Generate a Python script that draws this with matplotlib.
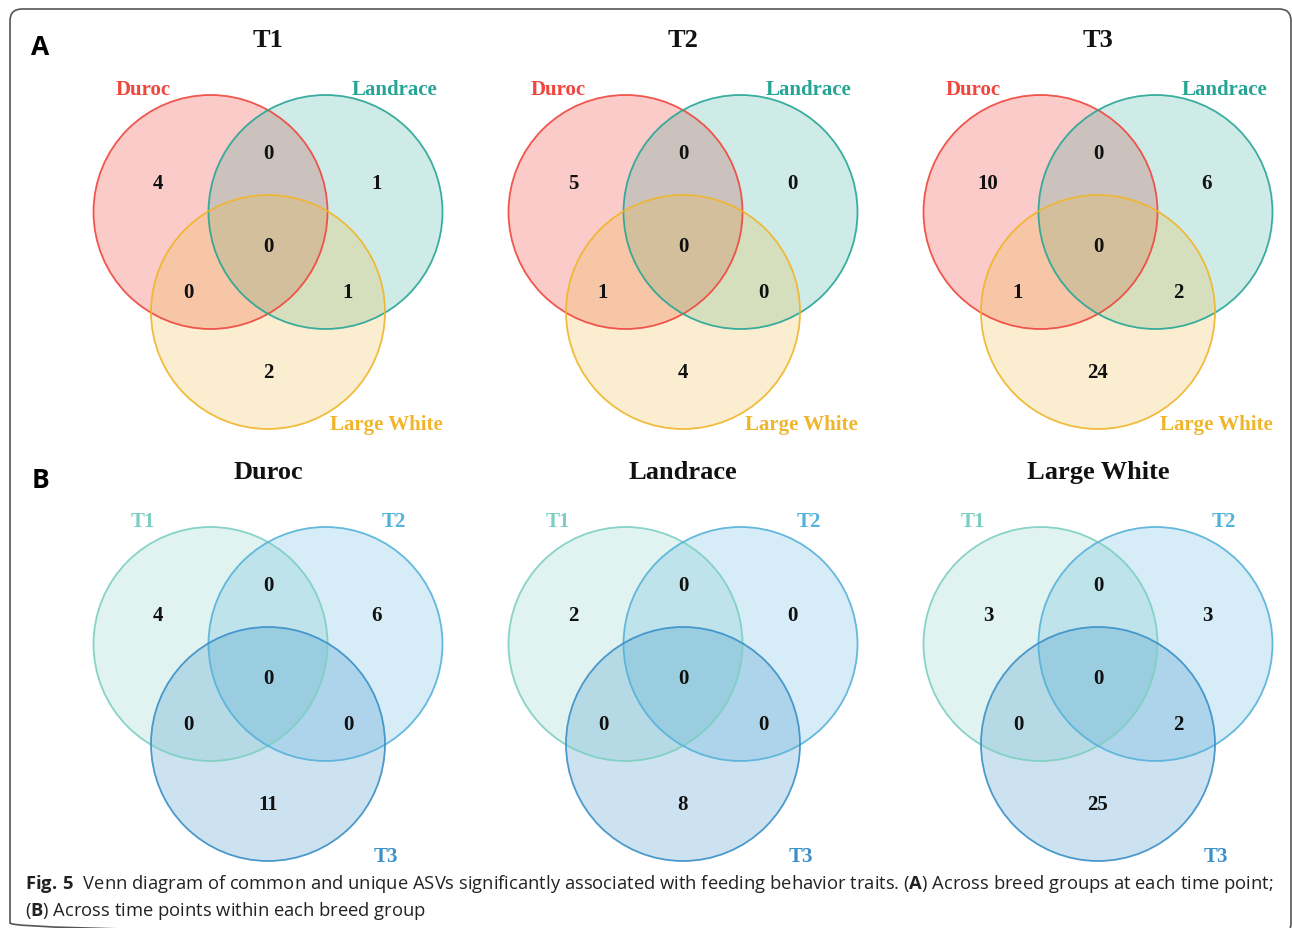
import matplotlib
matplotlib.use("Agg")
import matplotlib.pyplot as plt
from matplotlib.patches import Circle, FancyBboxPatch

# region order: left only, right only, left&right, all three,
# left&bottom, right&bottom, bottom only
a_titles = ["T1", "T2", "T3"]
a_sets = ["Duroc", "Landrace", "Large White"]
a_counts = [
    [4, 1, 0, 0, 0, 1, 2],
    [5, 0, 0, 0, 1, 0, 4],
    [10, 6, 0, 0, 1, 2, 24],
]
a_colors = ["#F0463D", "#26A596", "#F0B52A"]

b_titles = ["Duroc", "Landrace", "Large White"]
b_sets = ["T1", "T2", "T3"]
b_counts = [
    [4, 6, 0, 0, 0, 0, 11],
    [2, 0, 0, 0, 0, 0, 8],
    [3, 3, 0, 0, 0, 2, 25],
]
b_colors = ["#7DCFC2", "#55B2DA", "#3A90C8"]

SERIF = "Liberation Serif"
panel_x = [268, 683, 1098]
R = 117
count_off = [(-110, -29), (109, -29), (0, -59), (0, 34),
             (-80, 80), (80, 80), (0, 160)]


def venn(ax, cx, cy, title, sets, counts, colors, alphas):
    centers = [(cx - 57.5, cy), (cx + 57.5, cy), (cx, cy + 100)]
    for (x, y), col, al in zip(centers, colors, alphas):
        ax.add_patch(Circle((x, y), R, facecolor=col, alpha=al,
                            edgecolor="none"))
    for (x, y), col in zip(centers, colors):
        ax.add_patch(Circle((x, y), R, facecolor="none", edgecolor=col,
                            lw=1.3, alpha=0.9))
    for (dx, dy), n in zip(count_off, counts):
        ax.text(cx + dx, cy + dy, str(n), ha="center", va="center",
                fontsize=15, fontweight="bold", family=SERIF, color="#111111")
    ax.text(cx, cy - 166, title, ha="center", va="baseline", fontsize=19,
            fontweight="bold", family=SERIF, color="#111111")
    ax.text(cx - 125, cy - 118, sets[0], ha="center", va="baseline",
            fontsize=15, fontweight="bold", family=SERIF, color=colors[0])
    ax.text(cx + 126, cy - 118, sets[1], ha="center", va="baseline",
            fontsize=15, fontweight="bold", family=SERIF, color=colors[1])
    ax.text(cx + 118, cy + 217, sets[2], ha="center", va="baseline",
            fontsize=15, fontweight="bold", family=SERIF, color=colors[2])


def main():
    plt.rcParams["mathtext.fontset"] = "custom"
    plt.rcParams["mathtext.bf"] = "Open Sans:bold"
    plt.rcParams["mathtext.rm"] = "Open Sans"

    fig = plt.figure(figsize=(12.92, 9.29), dpi=100)
    ax = fig.add_axes([0, 0, 1, 1])
    ax.set_xlim(0, 1292)
    ax.set_ylim(929, 0)
    ax.axis("off")

    ax.add_patch(FancyBboxPatch((10, 10), 1281, 926,
                                boxstyle="round,pad=0,rounding_size=12",
                                facecolor="none", edgecolor="#555555",
                                lw=1.2))

    for i in range(3):
        venn(ax, panel_x[i], 213, a_titles[i], a_sets, a_counts[i],
             a_colors, [0.28, 0.22, 0.22])
        venn(ax, panel_x[i], 645, b_titles[i], b_sets, b_counts[i],
             b_colors, [0.23, 0.24, 0.26])

    ax.text(40, 47, "A", ha="center", va="center", fontsize=19,
            fontweight="bold", family="Open Sans")
    ax.text(40, 480, "B", ha="center", va="center", fontsize=19,
            fontweight="bold", family="Open Sans")

    cap = ("$\\bf{Fig.\\,5}$  Venn diagram of common and unique ASVs "
           "significantly associated with feeding behavior traits. "
           "($\\bf{A}$) Across breed groups at each time point;")
    ax.text(25, 884, cap, ha="left", va="center", fontsize=13.2,
            family="Open Sans", color="#222222")
    ax.text(25, 911, "($\\bf{B}$) Across time points within each breed group",
            ha="left", va="center", fontsize=13.2, family="Open Sans",
            color="#222222")

    fig.savefig("out.png", dpi=100)


if __name__ == "__main__":
    main()
